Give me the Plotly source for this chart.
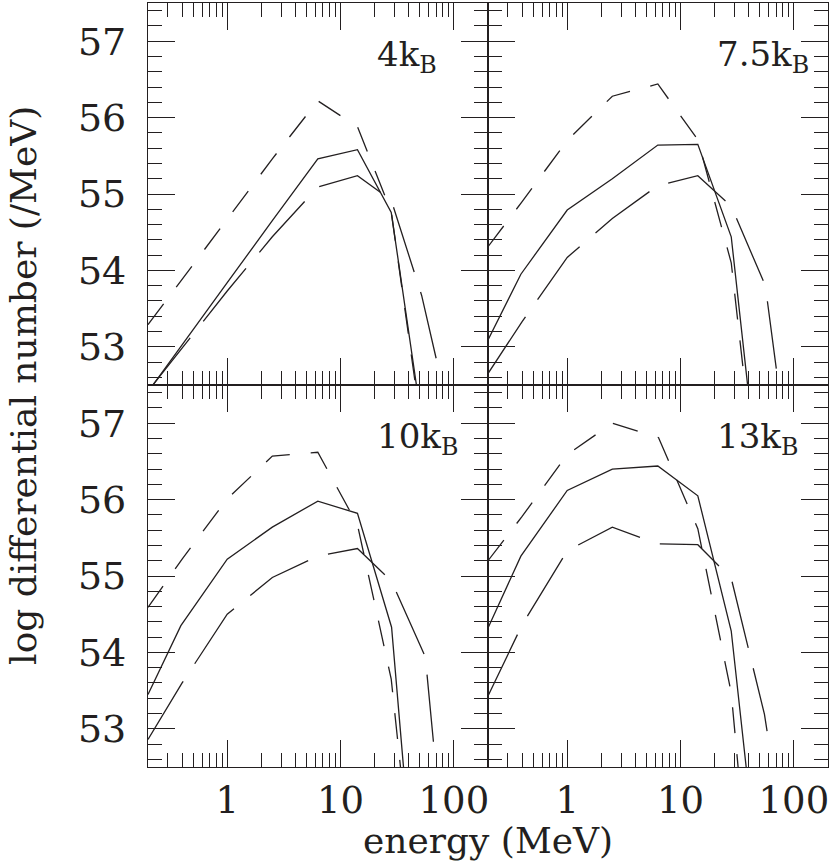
import numpy as np
import plotly.graph_objects as go
from plotly.subplots import make_subplots

# ---------------------------
# Data (energy in MeV, log differential number /MeV)
# ---------------------------
# 4 kB
E_SOLID_4 = [0.2, 0.4, 1.0, 2.5, 6.3, 14.1, 28, 50]
V_SOLID_4 = [52.41, 53.02, 53.84, 54.65, 55.46, 55.58, 54.76, 52.2]
E_SHORT_4 = [0.2, 0.4, 1.0, 2.5, 6.3, 14.1, 28, 50]
V_SHORT_4 = [53.29, 53.88, 54.67, 55.46, 56.22, 55.88, 54.77, 52.1]
E_LONG_4 = [0.2, 0.4, 1.0, 2.5, 6.3, 14.1, 28, 52, 72]
V_LONG_4 = [52.42, 52.99, 53.73, 54.44, 55.09, 55.24, 54.92, 53.67, 52.76]

# 7.5 kB
E_SOLID_75 = [0.2, 0.39, 1.0, 2.5, 6.3, 14.2, 28, 50]
V_SOLID_75 = [53.09, 53.95, 54.79, 55.2, 55.64, 55.65, 54.44, 51.06]
E_SHORT_75 = [0.2, 0.4, 1.0, 2.5, 6.3, 14.2, 28, 50]
V_SHORT_75 = [54.31, 54.9, 55.7, 56.28, 56.44, 55.71, 54.1, 50.77]
E_LONG_75 = [0.2, 0.4, 1.0, 2.5, 6.3, 14.2, 28, 56, 70]
V_LONG_75 = [52.65, 53.33, 54.17, 54.68, 55.11, 55.24, 54.84, 53.8, 52.71]

# 10 kB
E_SOLID_10 = [0.2, 0.39, 1.0, 2.5, 6.3, 14.1, 28.2, 50]
V_SOLID_10 = [53.45, 54.35, 55.22, 55.64, 55.98, 55.82, 54.33, 50.0]
E_SHORT_10 = [0.2, 0.4, 1.0, 2.5, 6.3, 14.1, 28, 50]
V_SHORT_10 = [54.59, 55.22, 56.01, 56.57, 56.62, 55.67, 53.65, 50.1]
E_LONG_10 = [0.2, 0.4, 1.0, 2.5, 6.3, 14.1, 28.2, 56, 66]
V_LONG_10 = [52.86, 53.6, 54.5, 54.98, 55.26, 55.36, 54.93, 53.94, 52.83]

# 13 kB
E_SOLID_13 = [0.2, 0.39, 1.0, 2.5, 6.3, 14.2, 28, 50]
V_SOLID_13 = [54.32, 55.26, 56.12, 56.4, 56.44, 56.05, 54.28, 50.88]
E_SHORT_13 = [0.2, 0.4, 1.0, 2.5, 6.4, 14.2, 28, 50]
V_SHORT_13 = [55.2, 55.78, 56.59, 57.0, 56.81, 55.62, 53.47, 49.44]
E_LONG_13 = [0.2, 0.4, 1.0, 2.5, 6.3, 14.2, 28, 55, 58]
V_LONG_13 = [53.43, 54.36, 55.33, 55.64, 55.42, 55.41, 54.97, 53.19, 52.97]

PANEL_LABELS = ["4k<sub>B</sub>", "7.5k<sub>B</sub>", "10k<sub>B</sub>", "13k<sub>B</sub>"]

X_TICKS = [1, 10, 100]
X_TICKTEXT = ["1", "10", "100"]
Y_TICKS = [53, 54, 55, 56, 57]

# ---------------------------
# Style
# ---------------------------
INK = "#231f20"
FONT = "DejaVu Serif"
SHORT_DASH = "26px,21px"
LONG_DASH = "68px,21px"
LW = 1.3

panels = [
    (1, 1, [(E_SOLID_4, V_SOLID_4), (E_SHORT_4, V_SHORT_4), (E_LONG_4, V_LONG_4)]),
    (1, 2, [(E_SOLID_75, V_SOLID_75), (E_SHORT_75, V_SHORT_75), (E_LONG_75, V_LONG_75)]),
    (2, 1, [(E_SOLID_10, V_SOLID_10), (E_SHORT_10, V_SHORT_10), (E_LONG_10, V_LONG_10)]),
    (2, 2, [(E_SOLID_13, V_SOLID_13), (E_SHORT_13, V_SHORT_13), (E_LONG_13, V_LONG_13)]),
]
dashes = ["solid", SHORT_DASH, LONG_DASH]

minor_x = [v * m for m in (0.1, 1, 10, 100) for v in range(2, 10)]
minor_x = [v for v in minor_x if 0.2 <= v <= 200]

fig = make_subplots(rows=2, cols=2, horizontal_spacing=0, vertical_spacing=0)

for row, col, series in panels:
    for (e, v), d in zip(series, dashes):
        fig.add_trace(
            go.Scatter(x=e, y=v, mode="lines",
                       line=dict(color=INK, width=LW, dash=d),
                       showlegend=False, hoverinfo="skip"),
            row=row, col=col,
        )
    fig.update_xaxes(
        type="log", range=[np.log10(0.2), np.log10(200)],
        tickmode="array", tickvals=X_TICKS, ticktext=X_TICKTEXT,
        ticks="inside", ticklen=27, tickwidth=1.3, tickcolor=INK,
        showline=True, linecolor=INK, linewidth=1.2, mirror="ticks",
        showgrid=False, zeroline=False,
        showticklabels=(row == 2), ticklabelstandoff=0,
        tickfont=dict(family=FONT, size=37, color=INK),
        minor=dict(tickmode="array", tickvals=minor_x, ticks="inside",
                   ticklen=14, tickwidth=1.3, tickcolor=INK, showgrid=False),
        row=row, col=col,
    )
    fig.update_yaxes(
        range=[52.5, 57.5],
        tickmode="array", tickvals=Y_TICKS,
        ticks="inside", ticklen=27, tickwidth=1.3, tickcolor=INK,
        showline=True, linecolor=INK, linewidth=1.2, mirror="ticks",
        showgrid=False, zeroline=False,
        showticklabels=(col == 1), ticklabelstandoff=13,
        tickfont=dict(family=FONT, size=38, color=INK),
        minor=dict(dtick=0.2, tick0=52.4, ticks="inside",
                   ticklen=14, tickwidth=1.3, tickcolor=INK, showgrid=False),
        row=row, col=col,
    )

# panel labels
axis_names = [("x", "y"), ("x2", "y2"), ("x3", "y3"), ("x4", "y4")]
for (xr, yr), label in zip(axis_names, PANEL_LABELS):
    fig.add_annotation(
        x=np.log10(20), y=56.8, xref=xr, yref=yr,
        xanchor="left", yanchor="middle", showarrow=False,
        text=label, font=dict(family=FONT, size=34, color=INK),
    )

fig.add_annotation(
    x=0.5, y=-0.096, xref="paper", yref="paper",
    xanchor="center", yanchor="middle", showarrow=False,
    text="energy (MeV)", font=dict(family=FONT, size=36, color=INK),
)
fig.add_annotation(
    x=-0.184, y=0.5, xref="paper", yref="paper",
    xanchor="center", yanchor="middle", showarrow=False, textangle=-90,
    text="log differential number (/MeV)", font=dict(family=FONT, size=36, color=INK),
)

fig.update_layout(
    width=830, height=863,
    margin=dict(l=148, r=2, t=3, b=96),
    plot_bgcolor="white", paper_bgcolor="white",
)

fig.write_html("out.html", config={"displayModeBar": False},
               post_script="document.body.style.margin='0';")
